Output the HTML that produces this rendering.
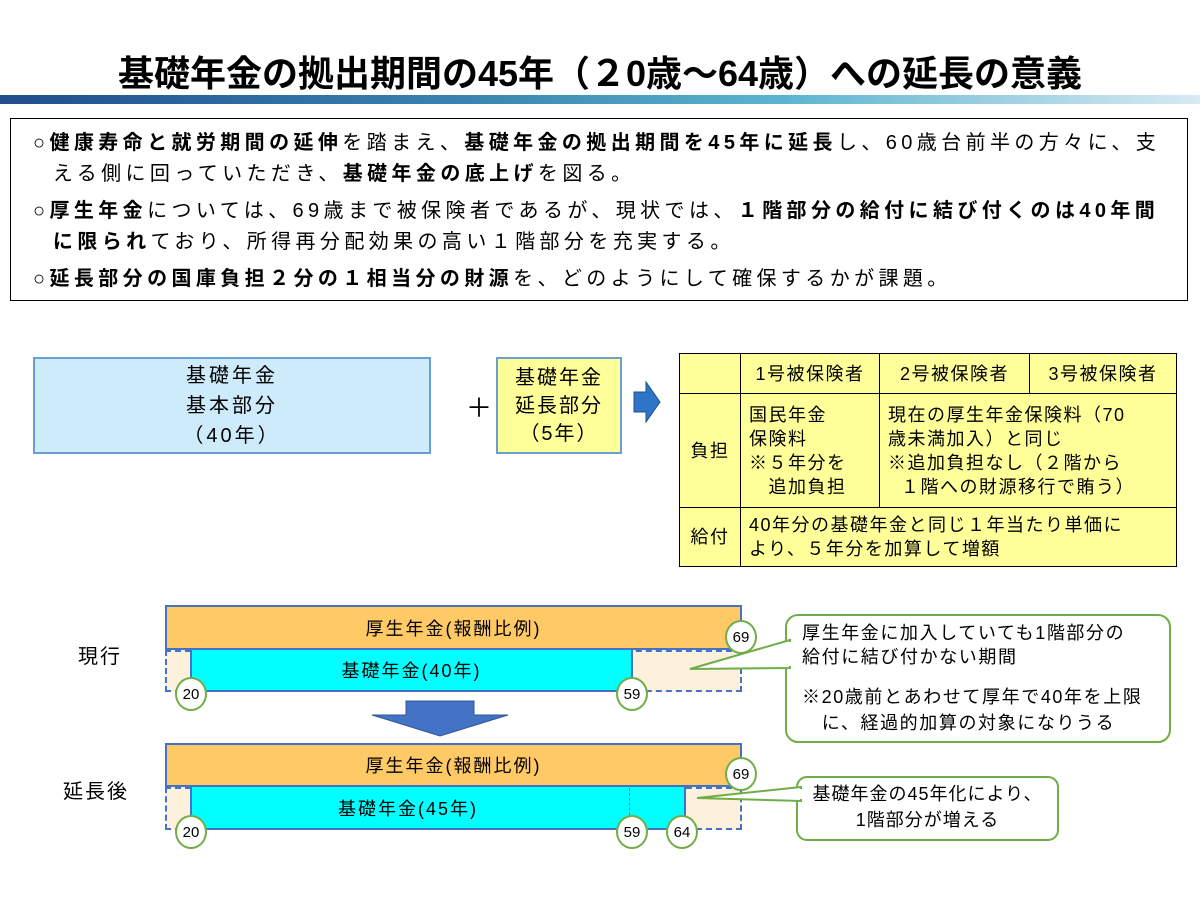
<!DOCTYPE html>
<html><head><meta charset="utf-8"><style>
body{margin:0;width:1200px;height:900px;background:#fff;position:relative;overflow:hidden;font-family:"Liberation Sans","Noto Sans CJK JP",sans-serif;color:#000}
.a{position:absolute}
.c{display:flex;align-items:center;justify-content:center;text-align:center}
.circ{position:absolute;width:28px;height:30px;border:2px solid #70ad47;border-radius:50%;background:#fff;font-size:15px;display:flex;align-items:center;justify-content:center}
table{border-collapse:collapse}
td{border:1.5px solid #000;font-size:18px;letter-spacing:1.5px;padding:0 8px;vertical-align:middle;line-height:24px;white-space:nowrap}
.t{font-size:20px;line-height:31px;letter-spacing:4.4px;white-space:nowrap;position:absolute;left:22px}
</style></head><body>
<div class="a c" style="left:0;top:46px;width:1200px;height:50px;font-size:36px;font-weight:bold;transform:scaleX(1.0)">基礎年金の拠出期間の45年（２0歳～64歳）への延長の意義</div>
<div class="a" style="left:0;top:95px;width:1200px;height:9px;background:linear-gradient(90deg,#1f4e8c,#3a86b0 40%,#5ab4cf 65%,#d8eaf2)"></div>
<div class="a" style="left:10px;top:118px;width:1176px;height:181px;border:1px solid #000">
<div class="t" style="top:9px">○<b>健康寿命と就労期間の延伸</b>を踏まえ、<b>基礎年金の拠出期間を45年に延長</b>し、60歳台前半の方々に、支<br>&nbsp;&nbsp;える側に回っていただき、<b>基礎年金の底上げ</b>を図る。</div>
<div class="t" style="top:77px">○<b>厚生年金</b>については、69歳まで被保険者であるが、現状では、<b>１階部分の給付に結び付くのは40年間</b><br>&nbsp;&nbsp;<b>に限られ</b>ており、所得再分配効果の高い１階部分を充実する。</div>
<div class="t" style="top:145px">○<b>延長部分の国庫負担２分の１相当分の財源</b>を、どのようにして確保するかが課題。</div>
</div>
<div class="a c" style="left:33px;top:357px;width:398px;height:97px;background:#cdebfb;border:2px solid #6a9fd4;box-sizing:border-box;font-size:20px;letter-spacing:3px;line-height:30px">基礎年金<br>基本部分<br>（40年）</div>
<div class="a" style="left:466px;top:388px;font-size:26px">＋</div>
<div class="a c" style="left:496px;top:357px;width:126px;height:97px;background:#ffff99;border:2px solid #6a9fd4;box-sizing:border-box;font-size:20px;letter-spacing:2px;line-height:28px">基礎年金<br>延長部分<br>（5年）</div>
<svg class="a" style="left:632px;top:380px" width="30" height="44"><polygon points="2,12 14,12 14,2 28,22 14,42 14,32 2,32" fill="#2e75c8" stroke="#1f4e8c"/></svg>
<table class="a" style="left:679px;top:353px;width:498px;height:214px;background:#ffff99">
<tr style="height:40px"><td style="width:44px"></td><td style="width:122px;text-align:center">1号被保険者</td><td style="width:133px;text-align:center">2号被保険者</td><td style="text-align:center">3号被保険者</td></tr>
<tr style="height:114px"><td style="text-align:center">負担</td><td>国民年金<br>保険料<br>※５年分を<br>&nbsp;&nbsp;&nbsp;追加負担</td><td colspan="2">現在の厚生年金保険料（70<br>歳未満加入）と同じ<br>※追加負担なし（２階から<br>&nbsp;&nbsp;１階への財源移行で賄う）</td></tr>
<tr><td style="text-align:center">給付</td><td colspan="3">40年分の基礎年金と同じ１年当たり単価に<br>より、５年分を加算して増額</td></tr>
</table>
<div class="a" style="left:78px;top:640px;font-size:20px;letter-spacing:2px">現行</div>
<div class="a" style="left:63px;top:775px;font-size:20px;letter-spacing:2px">延長後</div>
<div class="a" style="left:165px;top:650px;width:577px;height:42px;border:2px dashed #4472c4;box-sizing:border-box;background:#fdf0dc"></div>
<div class="a c" style="left:165px;top:605px;width:577px;height:45px;background:#ffc966;border:2px solid #4472c4;box-sizing:border-box;font-size:18px;letter-spacing:2px">厚生年金(報酬比例)</div>
<div class="a c" style="left:190px;top:650px;width:443px;height:42px;background:#00ffff;border:2px solid #4472c4;border-top:none;box-sizing:border-box;font-size:18px;letter-spacing:2px">基礎年金(40年)</div>
<div class="circ" style="left:725px;top:620px">69</div>
<div class="circ" style="left:175px;top:677px">20</div>
<div class="circ" style="left:616px;top:677px">59</div>
<svg class="a" style="left:370px;top:700px" width="140" height="38"><polygon points="36,1 104,1 104,15 138,15 70,36 2,15 36,15" fill="#4472c4" stroke="#2f5597"/></svg>
<div class="a" style="left:165px;top:787px;width:577px;height:43px;border:2px dashed #4472c4;box-sizing:border-box;background:#fdf0dc"></div>
<div class="a c" style="left:165px;top:743px;width:577px;height:44px;background:#ffc966;border:2px solid #4472c4;box-sizing:border-box;font-size:18px;letter-spacing:2px">厚生年金(報酬比例)</div>
<div class="a c" style="left:190px;top:787px;width:496px;height:43px;background:#00ffff;border:2px solid #4472c4;border-top:none;box-sizing:border-box;font-size:18px;letter-spacing:2px;padding-right:60px">基礎年金(45年)</div>
<div class="a" style="left:629px;top:788px;height:42px;border-left:1px dashed #4472c4"></div>
<div class="circ" style="left:725px;top:757px">69</div>
<div class="circ" style="left:175px;top:815px">20</div>
<div class="circ" style="left:616px;top:815px">59</div>
<div class="circ" style="left:666px;top:815px">64</div>
<svg class="a" style="left:0;top:0" width="1200" height="900">
<rect x="786" y="615" width="384" height="127" rx="12" fill="#fff" stroke="#70ad47" stroke-width="2"/>
<polygon points="790,640 690,669 790,668" fill="#fff" stroke="#70ad47" stroke-width="2"/>
<rect x="797" y="777" width="261" height="63" rx="10" fill="#fff" stroke="#70ad47" stroke-width="2"/>
<polygon points="801,787 697,798 801,801" fill="#fff" stroke="#70ad47" stroke-width="2"/>
<rect x="788" y="642" width="12" height="24" fill="#fff"/>
<rect x="799" y="789" width="8" height="10" fill="#fff"/>
</svg>
<div class="a" style="left:802px;top:621px;font-size:18px;letter-spacing:1.6px;line-height:24px;white-space:nowrap">厚生年金に加入していても1階部分の<br>給付に結び付かない期間</div>
<div class="a" style="left:802px;top:684px;font-size:18px;letter-spacing:1.6px;line-height:26px;white-space:nowrap">※20歳前とあわせて厚年で40年を上限<br>&nbsp;&nbsp;&nbsp;に、経過的加算の対象になりうる</div>
<div class="a c" style="left:797px;top:781px;width:261px;font-size:18px;letter-spacing:1px;line-height:26px">基礎年金の45年化により、<br>1階部分が増える</div>
</body></html>
